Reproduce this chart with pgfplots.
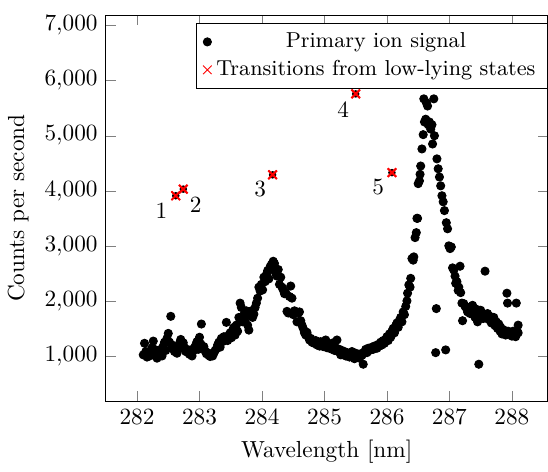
\documentclass[border=0pt]{standalone}
\usepackage{pgfplots}
\usepackage{pgfplotstable}
\pgfplotsset{compat=1.18}

\pgfplotstableread{
x y
282.10 1020
282.12 1230
282.14 1080
282.16 980
282.18 1040
282.20 1000
282.22 1090
282.24 1150
282.26 1270
282.28 1120
282.30 1000
282.32 960
282.34 1010
282.36 1060
282.38 1120
282.40 1000
282.42 1180
282.44 1250
282.46 1100
282.48 1320
282.50 1410
282.52 1250
282.54 1720
282.56 1200
282.58 1130
282.60 1080
282.62 1160
282.64 1050
282.66 1120
282.68 1230
282.70 1300
282.72 1180
282.74 1240
282.76 1150
282.78 1080
282.80 1120
282.82 1060
282.84 1030
282.86 1110
282.88 1000
282.90 1090
282.92 1150
282.94 1200
282.96 1260
282.98 1120
283.00 1340
283.02 1220
283.03 1580
283.05 1150
283.07 1170
283.09 1090
283.11 1040
283.13 1060
283.15 1010
283.17 990
283.19 1020
283.21 1000
283.23 1050
283.25 1100
283.27 1130
283.29 1200
283.31 1250
283.33 1160
283.35 1320
283.37 1260
283.39 1350
283.41 1300
283.43 1610
283.45 1280
283.47 1380
283.49 1420
283.51 1330
283.53 1470
283.55 1520
283.57 1380
283.59 1560
283.61 1450
283.63 1700
283.65 1960
283.67 1880
283.69 1620
283.71 1750
283.73 1680
283.75 1820
283.77 1560
283.79 1470
283.81 1740
283.83 1820
283.85 1700
283.87 1760
283.89 1880
283.91 1960
283.93 2050
283.95 2250
283.97 2180
283.99 2300
284.01 2200
284.03 2430
284.05 2350
284.07 2480
284.09 2550
284.11 2400
284.13 2620
284.15 2660
284.17 2580
284.18 2720
284.20 2680
284.22 2500
284.24 2450
284.26 2570
284.28 2300
284.30 2430
284.32 2250
284.34 2200
284.36 2130
284.38 2150
284.40 1810
284.42 1780
284.44 2080
284.46 2270
284.48 2050
284.50 1750
284.52 1820
284.54 1800
284.56 1620
284.58 1780
284.60 1800
284.62 1640
284.64 1560
284.66 1500
284.68 1420
284.70 1380
284.72 1430
284.74 1350
284.76 1290
284.78 1320
284.80 1250
284.82 1240
284.84 1230
284.86 1280
284.88 1200
284.90 1230
284.92 1180
284.94 1260
284.96 1220
284.98 1170
285.00 1200
285.02 1290
285.04 1150
285.06 1220
285.08 1180
285.10 1130
285.12 1200
285.14 1240
285.16 1100
285.18 1150
285.20 1290
285.22 1080
285.24 1120
285.26 1020
285.28 1100
285.30 1050
285.32 1080
285.34 1000
285.36 1060
285.38 1040
285.40 980
285.42 1020
285.44 1080
285.46 1000
285.48 950
285.50 1050
285.52 1000
285.54 1030
285.56 960
285.58 1040
285.60 1010
285.62 850
285.64 1070
285.66 1120
285.68 1060
285.70 1140
285.72 1100
285.74 1130
285.76 1160
285.78 1120
285.80 1180
285.82 1160
285.84 1140
285.86 1210
285.88 1180
285.90 1250
285.92 1200
285.94 1280
285.96 1230
285.98 1300
286.00 1350
286.02 1280
286.04 1400
286.06 1340
286.08 1450
286.10 1500
286.12 1420
286.14 1550
286.16 1600
286.18 1520
286.20 1650
286.22 1700
286.24 1620
286.26 1800
286.28 1750
286.30 1900
286.32 2000
286.33 2140
286.35 2290
286.37 2250
286.38 2410
286.40 2770
286.42 2740
286.43 2800
286.45 3150
286.47 3240
286.48 3500
286.49 3500
286.50 4130
286.52 4180
286.53 4300
286.54 4450
286.56 4760
286.58 5020
286.59 5670
286.60 5250
286.62 5300
286.63 5600
286.65 5540
286.66 5200
286.68 5250
286.70 5120
286.72 5200
286.73 4850
286.75 5670
286.76 5000
286.78 1060
286.79 1860
286.80 4580
286.82 4400
286.84 4250
286.86 4090
286.88 3910
286.90 3800
286.92 3640
286.94 1110
286.95 3420
286.97 3310
286.99 3000
287.01 2950
287.03 2980
287.05 2600
287.07 2560
287.09 2450
287.10 2320
287.12 2350
287.14 2190
287.15 2250
287.17 2630
287.18 2150
287.20 1960
287.21 1640
287.23 1950
287.25 1900
287.27 1870
287.29 1800
287.31 1830
287.33 1770
287.35 1900
287.37 1920
287.39 1750
287.41 1700
287.43 1850
287.45 1620
287.47 850
287.48 1780
287.50 1830
287.52 1720
287.54 1680
287.56 1750
287.57 2540
287.59 1700
287.61 1770
287.63 1660
287.65 1720
287.67 1600
287.69 1680
287.71 1700
287.73 1550
287.75 1620
287.77 1500
287.79 1580
287.81 1450
287.82 1520
287.84 1400
287.86 1480
287.88 1420
287.90 1380
287.92 2140
287.93 1960
287.94 1450
287.96 1400
287.98 1420
288.00 1360
288.02 1450
288.04 1380
288.06 1350
288.07 1960
288.08 1450
288.10 1420
288.10 1560
}\signal

\pgfplotstableread{
x y
282.62 3910
282.74 4030
284.17 4290
285.50 5760
286.08 4330
}\transitions

\begin{document}
\begin{tikzpicture}
\begin{axis}[
  width=190pt, height=166pt,
  scale only axis,
  xmin=281.5, xmax=288.57,
  ymin=180, ymax=7190,
  xtick={282,283,...,288},
  ytick={1000,2000,...,7000},
  scaled y ticks=false,
  xlabel={Wavelength [nm]},
  ylabel={Counts per second},
  tick align=inside,
  legend cell align=center,
  legend style={at={(1,0.98)}, anchor=north east, draw=black,
    font=\fontsize{9.3}{11}\selectfont},
]
\addplot[only marks, mark=*, mark size=1.75pt, color=black] table[x=x, y=y] {\signal};
\addlegendentry{Primary ion signal}
\addplot[only marks, mark=*, mark size=1.4pt, color=black, forget plot] table[x=x, y=y] {\transitions};
\addplot[only marks, mark=x, mark size=2.6pt, color=red, line width=0.9pt, forget plot] table[x=x, y=y] {\transitions};
\addplot[only marks, mark=x, mark size=2.6pt, color=red] table[x=x, y=y] {\transitions};
\addlegendentry{Transitions from low-lying states}
\node at (axis cs:282.39,3640) {1};
\node at (axis cs:282.94,3750) {2};
\node at (axis cs:283.97,4040) {3};
\node at (axis cs:285.30,5480) {4};
\node at (axis cs:285.86,4060) {5};
\end{axis}
\path ([yshift=3.5pt]current bounding box.north west) rectangle (current bounding box.south east);
\end{tikzpicture}
\end{document}
